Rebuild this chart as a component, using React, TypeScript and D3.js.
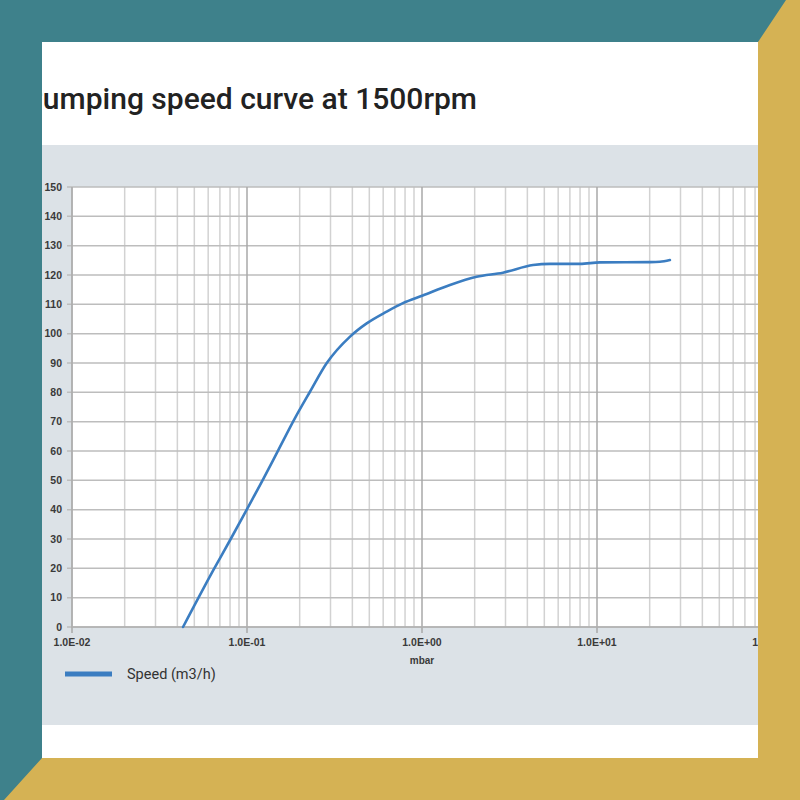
import * as d3 from "d3";

// Pumping speed curve
const pressure = [0.0431, 0.0642, 0.0807, 0.1, 0.124, 0.151, 0.188, 0.229, 0.285, 0.388, 0.483, 0.628, 0.778, 1.01, 1.445, 2.05, 2.9, 4.31, 5.39, 8.0, 10.4, 20.1, 22.9, 26.1];
const speed = [0, 19.4, 30, 40.2, 50.5, 60.3, 71.2, 80.2, 89.9, 99, 103.5, 107.5, 110.4, 113, 116.6, 119.4, 120.8, 123.4, 123.8, 123.8, 124.3, 124.4, 124.5, 125.1];

const decadeTicks = [0.01, 0.1, 1, 10, 100];
const decadeLabels = ["1.0E-02", "1.0E-01", "1.0E+00", "1.0E+01", "1.0E+02"];
const yTicks = [0, 10, 20, 30, 40, 50, 60, 70, 80, 90, 100, 110, 120, 130, 140, 150];

const TEAL = "#3e818b";
const GOLD = "#d5b254";
const BLUE = "#3b7dc1";

export default function App() {
  const plot = { left: 72, right: 772, top: 187, bottom: 627 };

  const x = d3.scaleLog().domain([0.01, 100]).range([plot.left, plot.right]);
  const y = d3.scaleLinear().domain([0, 150]).range([plot.bottom, plot.top]);

  const points = pressure.map((p, i) => ({ p, s: speed[i] }));
  const line = d3
    .line<{ p: number; s: number }>()
    .x((d) => x(d.p))
    .y((d) => y(d.s))
    .curve(d3.curveMonotoneX);

  const minorTicks = x.ticks().filter((t) => !decadeTicks.some((d) => Math.abs(d - t) / d < 1e-6));

  return (
    <div style={{ position: "absolute", left: 0, top: 0 }}>
      <svg width={800} height={800} viewBox="0 0 800 800">
        <defs>
          <clipPath id="card">
            <rect x={42} y={42} width={716} height={716} />
          </clipPath>
        </defs>

        {/* frame */}
        <rect x={0} y={0} width={800} height={800} fill={TEAL} />
        <polygon points="786,0 800,0 800,800 4,800 42,758 758,758 758,42" fill={GOLD} />
        <rect x={42} y={42} width={716} height={716} fill="#ffffff" />

        <g clipPath="url(#card)">
          {/* title */}
          <text
            x={477}
            y={109}
            textAnchor="end"
            fontFamily="Roboto, sans-serif"
            fontWeight={500}
            fontSize={30}
            fill="#222"
          >
            Pumping speed curve at 1500rpm
          </text>

          {/* chart panel */}
          <rect x={42} y={145} width={716} height={580} fill="#dce2e7" />
          <rect
            x={plot.left}
            y={plot.top}
            width={plot.right - plot.left}
            height={plot.bottom - plot.top}
            fill="#ffffff"
          />

          {/* minor vertical grid */}
          {minorTicks.map((t) => (
            <line
              key={"m" + t}
              x1={x(t)}
              x2={x(t)}
              y1={plot.top}
              y2={plot.bottom}
              stroke="#d2d2d2"
              strokeWidth={1.5}
            />
          ))}

          {/* horizontal grid + y ticks */}
          {yTicks.map((t) => (
            <g key={"y" + t}>
              <line x1={plot.left - 5} x2={plot.right} y1={y(t)} y2={y(t)} stroke="#bdbdbd" strokeWidth={1.5} />
              <text
                x={62}
                y={y(t) + 3.5}
                textAnchor="end"
                fontFamily="'Liberation Sans Narrow', 'Liberation Sans', sans-serif"
                fontWeight={700}
                fontSize={10.5}
                fill="#3a3a3a"
              >
                {t}
              </text>
            </g>
          ))}

          {/* decade lines + x labels */}
          {decadeTicks.map((t, i) => (
            <g key={"d" + t}>
              <line
                x1={x(t)}
                x2={x(t)}
                y1={plot.top}
                y2={plot.bottom + 6}
                stroke="#a9a9a9"
                strokeWidth={1.5}
              />
              <text
                x={x(t)}
                y={646}
                textAnchor="middle"
                fontFamily="'Liberation Sans Narrow', 'Liberation Sans', sans-serif"
                fontWeight={700}
                fontSize={10.5}
                fill="#3a3a3a"
              >
                {decadeLabels[i]}
              </text>
            </g>
          ))}

          {/* axis lines */}
          <line x1={plot.left} x2={plot.left} y1={plot.top} y2={plot.bottom} stroke="#b0b0b0" strokeWidth={1.5} />
          <line x1={plot.left} x2={plot.right} y1={plot.bottom} y2={plot.bottom} stroke="#b0b0b0" strokeWidth={1.5} />

          <text
            x={x(1)}
            y={664}
            textAnchor="middle"
            fontFamily="'Liberation Sans Narrow', 'Liberation Sans', sans-serif"
            fontWeight={700}
            fontSize={10}
            fill="#3a3a3a"
          >
            mbar
          </text>

          {/* speed curve */}
          <path d={line(points) ?? ""} fill="none" stroke={BLUE} strokeWidth={2.6} strokeLinecap="round" />

          {/* legend */}
          <line x1={65} x2={112} y1={674} y2={674} stroke={BLUE} strokeWidth={5} />
          <text
            x={127}
            y={679}
            fontFamily="'Liberation Sans Narrow', Roboto, sans-serif"
            fontSize={14.5}
            fill="#333"
          >
            Speed (m3/h)
          </text>
        </g>
      </svg>
    </div>
  );
}
